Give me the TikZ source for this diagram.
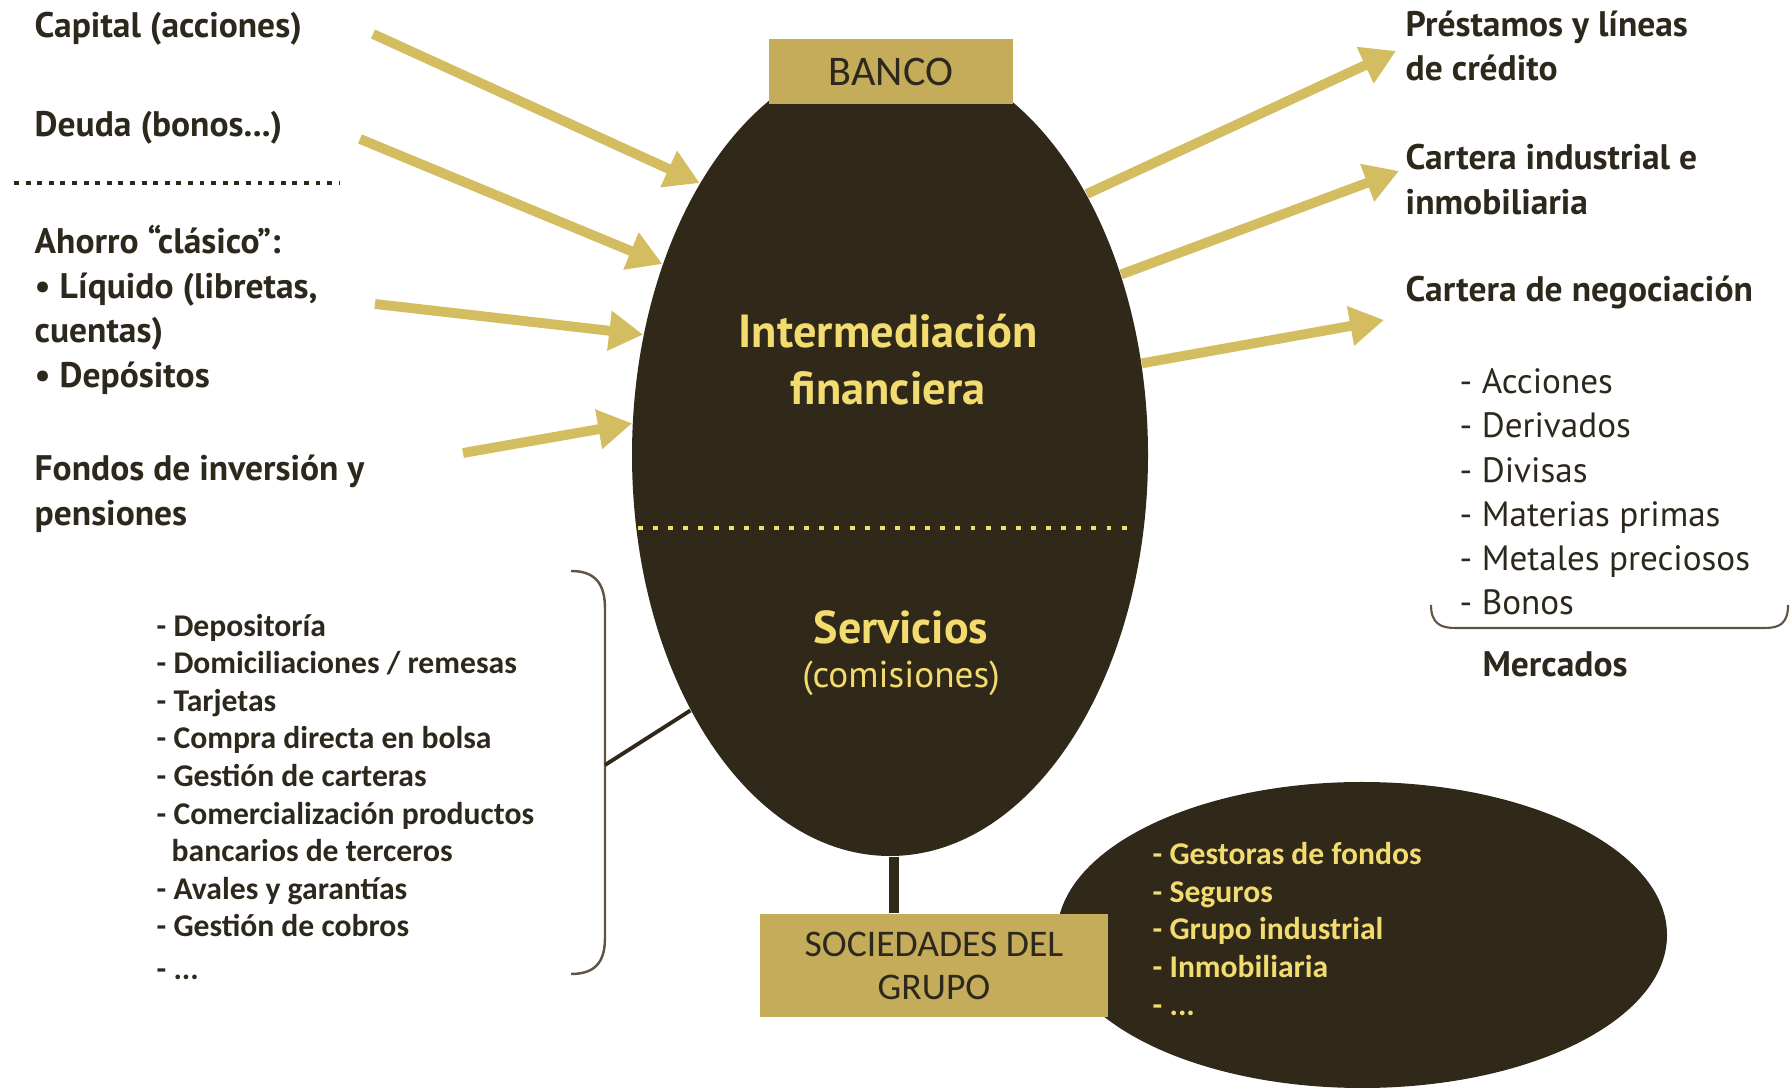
\documentclass[tikz,border=0pt]{standalone}
\usepackage{fontspec}
\setmainfont{Carlito}
\newfontfamily\titlefont{PT Sans}
\usetikzlibrary{arrows.meta, shapes.geometric}
\definecolor{huevo}{RGB}{48,41,26}
\definecolor{oro}{RGB}{196,172,90}
\definecolor{flechaoro}{RGB}{211,189,96}
\definecolor{amarillo}{RGB}{242,220,112}
\definecolor{tinta}{RGB}{45,40,28}
\definecolor{llave}{RGB}{95,86,66}

\begin{document}
\begin{tikzpicture}[
    flecha/.style = {line width = 2.8pt, color = flechaoro, -{Triangle[length = 3.4mm, width = 3.8mm]}},
    caja/.style = {rectangle, fill = oro, inner sep = 0pt, text = tinta},
    titulo/.style = {anchor = west, inner sep = 0pt, align = left, text = tinta, font = \titlefont\bfseries\fontsize{10.1}{12.7}\selectfont},
    mercado/.style = {anchor = west, inner sep = 0pt, align = left, text = tinta, font = \titlefont\fontsize{10}{12.6}\selectfont},
    lista/.style = {anchor = west, inner sep = 0pt, align = left, font = \bfseries\fontsize{9}{10.7}\selectfont}
  ]
  \useasboundingbox (0,0) rectangle (17.91,10.89);

  \node[ellipse, fill = huevo, minimum width = 5.16cm, minimum height = 8.02cm, inner sep = 0pt] (egg) at (8.90,6.34) {};
  \node[ellipse, fill = huevo, minimum width = 6.10cm, minimum height = 3.06cm, inner sep = 0pt] (filiales) at (13.62,1.54) {};
  \node[caja, minimum width = 3.48cm, minimum height = 1.03cm, align = center, font = \fontsize{10.7}{12.2}\selectfont] (grupo) at (9.34,1.235) {SOCIEDADES DEL\\GRUPO};
  \draw[line width = 3.1pt, color = huevo] ([xshift = 0.04cm]egg.south) -- ([xshift = 0.04cm]egg.south |- grupo.north);
  \node[caja, minimum width = 2.44cm, minimum height = 0.65cm, font = \fontsize{12}{14}\selectfont] (banco) at (8.91,10.175) {BANCO};

  \node[inner sep = 0pt, align = center, text = amarillo, font = \titlefont\bfseries\fontsize{13.2}{16.2}\selectfont] (inter) at (8.88,7.295) {Intermediación\\financiera};
  \draw[line width = 1.4pt, dash pattern = on 1.4pt off 2.9pt, color = amarillo] (6.38,5.61) -- (11.34,5.61);
  \node[inner sep = 0pt, text = amarillo, font = \titlefont\bfseries\fontsize{13.1}{15}\selectfont] (serv) at (9.01,4.62) {Servicios};
  \node[inner sep = 0pt, text = amarillo, font = \titlefont\fontsize{10.6}{12}\selectfont] (comis) at (9.01,4.11) {(comisiones)};

  \node[titulo] (capital) at (0.34,10.60) {Capital (acciones)};
  \node[titulo] (deuda) at (0.34,9.61) {Deuda (bonos...)};
  \draw[line width = 1.4pt, dash pattern = on 1.4pt off 1.9pt, color = tinta] (0.14,9.06) -- (3.39,9.06);
  \node[titulo] (ahorro) at (0.34,7.79) {Ahorro “clásico”:\\• Líquido (libretas,\\cuentas)\\• Depósitos};
  \node[titulo] (fondos) at (0.34,5.955) {Fondos de inversión y\\pensiones};

  \node[titulo] (prestamos) at (14.05,10.43) {Préstamos y líneas\\de crédito};
  \node[titulo] (industrial) at (14.05,9.095) {Cartera industrial e\\inmobiliaria};
  \node[titulo] (negociacion) at (14.05,7.97) {Cartera de negociación};
  \node[mercado] (activos) at (14.59,5.97) {- Acciones\\- Derivados\\- Divisas\\- Materias primas\\- Metales preciosos\\- Bonos};
  \draw[color = llave, line width = 0.6pt] (14.31,4.84) .. controls (14.31,4.66) and (14.40,4.61) .. (14.55,4.61) -- (17.65,4.61) .. controls (17.80,4.61) and (17.88,4.66) .. (17.88,4.84);
  \node[titulo, anchor = center] (mercados) at (15.55,4.25) {Mercados};

  \node[lista, text = tinta] (servicios) at (1.56,2.92) {- Depositoría\\- Domiciliaciones / remesas\\- Tarjetas\\- Compra directa en bolsa\\- Gestión de carteras\\- Comercialización productos\\\hspace*{0.15cm}bancarios de terceros\\- Avales y garantías\\- Gestión de cobros\\[1.5pt]- ...};
  \draw[color = llave, line width = 0.7pt] (5.71,5.18) .. controls (5.98,5.18) and (6.05,5.02) .. (6.05,4.80) -- (6.05,1.52) .. controls (6.05,1.30) and (5.98,1.15) .. (5.71,1.15);
  \coordinate (brk) at (6.05,3.24);
  \draw[color = huevo, line width = 1.1pt] (brk) -- (egg.232);

  \node[lista, text = amarillo] (sociedades) at (11.52,1.60) {- Gestoras de fondos\\- Seguros\\- Grupo industrial\\- Inmobiliaria\\- ...};

  \coordinate (c1) at (3.73,10.55);
  \coordinate (c2) at (3.60,9.50);
  \coordinate (c3) at (3.75,7.85);
  \coordinate (c4) at (4.63,6.36);
  \coordinate (p1) at (13.96,10.38);
  \coordinate (p2) at (13.99,9.18);
  \coordinate (p3) at (13.84,7.69);
  \foreach \c/\a in {c1/125, c2/140, c3/154, c4/173} {
    \draw[flecha] (\c) -- (egg.\a);
  }
  \foreach \a/\p in {53/p1, 38/p2, 20/p3} {
    \draw[flecha] (egg.\a) -- (\p);
  }
\end{tikzpicture}
\end{document}
